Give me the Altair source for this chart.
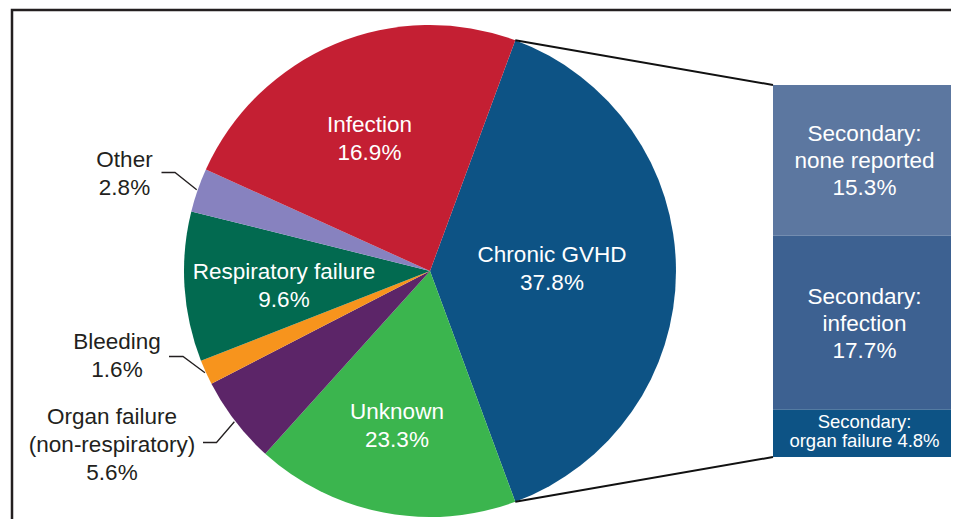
import math
import altair as alt
import pandas as pd

# ---------------- data ----------------
# pie slices in clockwise drawing order, starting with Chronic GVHD
slice_categories = ["Chronic GVHD", "Unknown", "Organ failure (non-respiratory)",
                    "Bleeding", "Respiratory failure", "Other", "Infection"]
# angular share of each slice as drawn in the picture
slice_shares = [37.8, 16.9, 5.6, 1.6, 9.6, 2.8, 23.3]
# label text as printed on the chart
slice_labels = ["Chronic GVHD\n37.8%", "Unknown\n23.3%", "Organ failure\n(non-respiratory)\n5.6%",
                "Bleeding\n1.6%", "Respiratory failure\n9.6%", "Other\n2.8%", "Infection\n16.9%"]
slice_colors = ["#0d5385", "#3bb54e", "#5c2568", "#f7941d", "#026a50", "#8782bf", "#c41f33"]

# breakdown of Chronic GVHD (bar on the right), top to bottom
secondary_categories = ["none reported", "infection", "organ failure"]
secondary_values = [15.3, 17.7, 4.8]
secondary_labels = ["Secondary:\nnone reported\n15.3%", "Secondary:\ninfection\n17.7%",
                    "Secondary:\norgan failure 4.8%"]
secondary_colors = ["#5c77a0", "#3d6191", "#0d5385"]

# ---------------- layout (page pixels) ----------------
W, H = 943, 511
OFF = 8
CX, CY, R = 430, 271, 246
BAR_L, BAR_R, BAR_T, BAR_B = 773, 956, 85, 457
FONT = "Liberation Sans, Arial, Helvetica, sans-serif"
DARK = "#231f20"

inside_pos = {  # center x, first baseline y
    "Chronic GVHD": (552, 262),
    "Infection": (369.5, 131.5),
    "Unknown": (397, 419),
    "Respiratory failure": (284, 278.5),
}
outside_pos = {  # center x, first baseline y, leader start x, elbow x, leader y
    "Other": (124.5, 167, 161.5, 175, 172.5),
    "Bleeding": (117, 348.5, 169, 183, 356.5),
    "Organ failure (non-respiratory)": (112, 423.5, 203, 216.5, 442.5),
}

xs = alt.Scale(domain=[OFF, OFF + W], range=[0, W], nice=False, zero=False)
ys = alt.Scale(domain=[OFF, OFF + H], range=[0, H], nice=False, zero=False)

total = sum(slice_shares)
a0 = math.pi / 2 - math.pi * slice_shares[0] / total  # GVHD centred at 3 o'clock

def rim(angle, r=R):
    return CX + r * math.sin(angle), CY - r * math.cos(angle)

# slice angles from data
angles = []
acc = a0
for s in slice_shares:
    a1 = acc + 2 * math.pi * s / total
    angles.append((acc, a1))
    acc = a1

pie_df = pd.DataFrame({"cat": slice_categories, "share": slice_shares,
                       "idx": list(range(len(slice_categories)))})

sec_total = sum(secondary_values)
sec_df = pd.DataFrame({"cat": secondary_categories, "value": secondary_values,
                       "idx": list(range(len(secondary_categories)))})

# ---------------- layers ----------------
frame_df = pd.DataFrame({"x": [12, 12, 975], "y": [545, 10, 10], "o": [0, 1, 2]})
frame = alt.Chart(frame_df).mark_line(color=DARK, strokeWidth=2.5, strokeJoin="miter").encode(
    x=alt.X("x:Q", scale=xs, axis=None), y=alt.Y("y:Q", scale=ys, axis=None), order="o:Q")

arc = alt.Chart(pie_df).mark_arc(outerRadius=R).encode(
    theta=alt.Theta("share:Q", stack=True, scale=alt.Scale(range=[a0, a0 + 2 * math.pi])),
    color=alt.Color("cat:N", scale=alt.Scale(domain=slice_categories, range=slice_colors), legend=None),
    order=alt.Order("idx:Q"),
    x=alt.XDatum(CX, type="quantitative", scale=xs, axis=None),
    y=alt.YDatum(CY, type="quantitative", scale=ys, axis=None),
)

bys = alt.Scale(domain=[0, sec_total], range=[BAR_T - OFF, BAR_B - OFF], nice=False, zero=False)
bar = alt.Chart(sec_df).transform_stack(
    stack="value", groupby=[], as_=["v0", "v1"], sort=[alt.SortField("idx", order="ascending")]
).mark_rect().encode(
    x=alt.value(BAR_L - OFF), x2=alt.value(BAR_R - OFF),
    y=alt.Y("v0:Q", axis=None, scale=bys),
    y2="v1:Q",
    color=alt.Color("cat:N", scale=alt.Scale(domain=secondary_categories, range=secondary_colors), legend=None),
)

# connector lines from GVHD slice edges to the bar corners
g0, g1 = angles[0]
p_top, p_bot = rim(g0), rim(g1)
conn_df = pd.DataFrame({
    "x": [p_top[0], BAR_L, p_bot[0], BAR_L],
    "y": [p_top[1], BAR_T, p_bot[1], BAR_B],
    "g": ["top", "top", "bot", "bot"], "o": [0, 1, 0, 1]})
conn = alt.Chart(conn_df).mark_line(color="#111111", strokeWidth=2).encode(
    x=alt.X("x:Q", scale=xs, axis=None), y=alt.Y("y:Q", scale=ys, axis=None),
    detail="g:N", order="o:Q")

# leader lines for small slices
lead_rows = []
for cat, (tx, ty, sx, ex, ly) in outside_pos.items():
    i = slice_categories.index(cat)
    mid = sum(angles[i]) / 2
    rx, ry = rim(mid, R + 1)
    for o, (px, py) in enumerate([(sx, ly), (ex, ly), (rx, ry)]):
        lead_rows.append({"x": px, "y": py, "g": cat, "o": o})
lead = alt.Chart(pd.DataFrame(lead_rows)).mark_line(color=DARK, strokeWidth=1.3).encode(
    x=alt.X("x:Q", scale=xs, axis=None), y=alt.Y("y:Q", scale=ys, axis=None),
    detail="g:N", order="o:Q")

# labels
in_rows, out_rows = [], []
for cat, lab in zip(slice_categories, slice_labels):
    if cat in inside_pos:
        x, y = inside_pos[cat]
        in_rows.append({"x": x, "y": y, "t": lab})
    else:
        x, y = outside_pos[cat][:2]
        out_rows.append({"x": x, "y": y, "t": lab})

def text_layer(rows, size, lh, color):
    return alt.Chart(pd.DataFrame(rows)).mark_text(
        align="center", baseline="alphabetic", lineBreak="\n", font=FONT,
        fontSize=size, lineHeight=lh, color=color).encode(
        x=alt.X("x:Q", scale=xs, axis=None), y=alt.Y("y:Q", scale=ys, axis=None), text="t:N")

inside_text = text_layer(in_rows, 22.5, 28, "white")
outside_text = text_layer(out_rows, 22.5, 28, DARK)

# bar labels centred on each segment
big_rows, small_rows = [], []
cum = 0
bar_h = BAR_B - BAR_T
for v, lab in zip(secondary_values, secondary_labels):
    mid = BAR_T + (cum + v / 2) / sec_total * bar_h
    cum += v
    n = lab.count("\n") + 1
    if v / sec_total * bar_h > 90:
        big_rows.append({"x": (BAR_L + BAR_R) / 2, "y": mid - (n - 1) / 2 * 27 + 0.36 * 22.5, "t": lab})
    else:
        small_rows.append({"x": (BAR_L + BAR_R) / 2, "y": mid - (n - 1) / 2 * 19 + 0.36 * 18.5 - 3, "t": lab})

bar_text_big = text_layer(big_rows, 22.5, 27, "white")
bar_text_small = text_layer(small_rows, 18.5, 19, "white")

chart = alt.layer(
    frame, arc, bar, conn, lead, inside_text, outside_text, bar_text_big, bar_text_small
).resolve_scale(
    y="independent", color="independent"
).properties(
    width=W, height=H, padding=0, autosize=alt.AutoSizeParams(type="none"), background="white"
).configure_view(stroke=None)

chart.save("out.html", embed_options={"renderer": "svg", "actions": False})
